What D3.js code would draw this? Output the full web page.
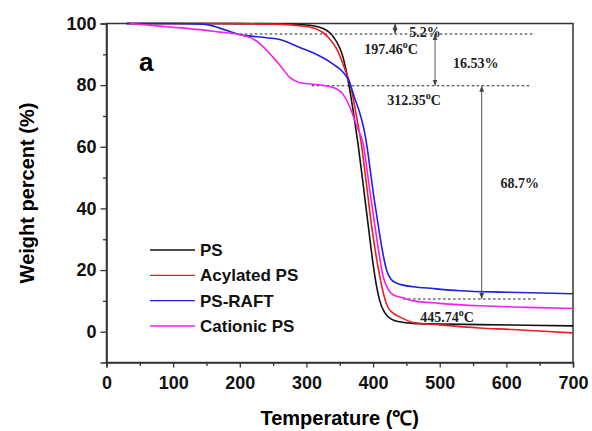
<!DOCTYPE html>
<html>
<head>
<meta charset="utf-8">
<script src="https://cdn.jsdelivr.net/npm/d3@7/dist/d3.min.js"></script>
<style>
  body { margin: 0; background: #fff; }
  svg { display: block; }
</style>
</head>
<body>
<script>
// TGA curves: [temperature °C, weight %]
const psData = [[30,100],[150,100],[250,99.9],[300,99.5],[325,98.4],[340,95.8],[355,89],[363,81],
  [372,69],[378,60],[385,48],[393,34],[400,22],[405,15],[410,10],[418,6],[428,4],[440,3.2],
  [460,2.7],[500,2.5],[560,2.3],[630,2.1],[700,1.9]];
const acylatedData = [[30,100],[150,100],[250,99.8],[300,99],[325,97],[335,95],[346,91.5],[358,85],
  [366,80],[375,70],[383,60],[390,48],[398,34],[405,24],[410,18],[416,12],[422,8],[430,6],
  [440,4.8],[460,3],[500,2.2],[560,1.2],[610,0.7],[650,0.2],[700,-0.4]];
const raftData = [[30,100],[100,100],[145,99.8],[170,98.5],[200,96.4],[230,95.6],[260,94.8],
  [290,92.2],[310,90.5],[340,86.8],[355,84.2],[365,80.8],[372,76],[380,71],[386,66],[391,60],
  [396,52],[401,44],[406,37],[411,30],[416,24],[421,19.5],[427,17],[435,15.8],[445,15.1],
  [460,14.6],[490,14],[530,13.3],[600,12.8],[700,12.3]];
const cationicData = [[35,100],[60,99.5],[100,98.8],[140,98],[170,97.2],[200,96.4],[215,95.5],
  [230,93.5],[250,89],[262,86],[275,82.5],[290,80.8],[310,80.3],[340,79.2],[355,77],[365,73],
  [375,67],[385,61],[395,46],[403,34],[410,24],[415,18],[422,14],[430,12],[445,11],[460,10],
  [500,9.2],[560,8.4],[630,7.9],[700,7.5]];

const seriesNames = ['PS', 'Acylated PS', 'PS-RAFT', 'Cationic PS'];
const seriesData = [psData, acylatedData, raftData, cationicData];
const seriesColors = ['#111111', '#ee1c24', '#2020e0', '#f020f0'];

const xTicks = [0, 100, 200, 300, 400, 500, 600, 700];
const yTicks = [0, 20, 40, 60, 80, 100];

// annotations (data units)
const dashedLines = [[200, 643, 96.6], [308, 638, 79.8], [445, 646, 10.6]]; // [t1, t2, w]
const arrows = [[433, 100, 96.6], [493, 96.6, 79.8], [563, 79.8, 10.6]];   // [t, w1, w2]
const notes = [
  [478, 97.4, '5.2%', false],
  [427, 91.7, '197.46', true],
  [554, 87.2, '16.53%', false],
  [461.5, 75.2, '312.35', true],
  [620, 48.3, '68.7%', false],
  [511, 4.8, '445.74', true]
];

const width = 592, height = 431;
const margin = {left: 106.5, right: 19, top: 23.5, bottom: 68.5};

const svg = d3.select('body').append('svg')
  .attr('width', width)
  .attr('height', height);

const x = d3.scaleLinear().domain([0, 700]).range([margin.left, width - margin.right]);
const y = d3.scaleLinear().domain([-10, 100]).range([height - margin.bottom, margin.top]);

const axisColor = '#333';

// frame (top and right)
svg.append('rect')
  .attr('x', x(0)).attr('y', y(100))
  .attr('width', x(700) - x(0)).attr('height', y(-10) - y(100))
  .attr('fill', 'none').attr('stroke', axisColor).attr('stroke-width', 1.5);

// axes
const xAxis = svg.append('g')
  .attr('transform', `translate(0,${y(-10)})`)
  .call(d3.axisBottom(x).tickValues(d3.range(0, 701, 50)).tickSize(5).tickFormat(d => xTicks.includes(d) ? d : ''));
const yAxis = svg.append('g')
  .attr('transform', `translate(${x(0)},0)`)
  .call(d3.axisLeft(y).tickValues(d3.range(-10, 101, 10)).tickSize(6).tickFormat(d => yTicks.includes(d) ? d : ''));

[xAxis, yAxis].forEach(g => {
  g.select('.domain').attr('stroke', axisColor).attr('stroke-width', 1.5);
  g.selectAll('.tick line').attr('stroke', axisColor).attr('stroke-width', 1.3);
  g.selectAll('text')
    .attr('fill', '#111')
    .style('font-family', '"Liberation Sans", Arial, sans-serif')
    .style('font-weight', 'bold')
    .style('font-size', '18px');
});
xAxis.selectAll('.tick').filter(d => !xTicks.includes(d)).select('line').attr('y2', 3.5);
yAxis.selectAll('.tick').filter(d => !yTicks.includes(d)).select('line').attr('x2', -3.5);
yAxis.selectAll('.tick').filter(d => d === -10).select('line').remove();
xAxis.selectAll('text').attr('dy', '1.05em');
yAxis.selectAll('text').attr('x', -10);

// axis titles
svg.append('text')
  .attr('x', (x(0) + x(700)) / 2).attr('y', 425)
  .attr('text-anchor', 'middle')
  .style('font-family', '"Liberation Sans", Arial, sans-serif')
  .style('font-weight', 'bold').style('font-size', '20px')
  .text('Temperature (℃)');

svg.append('text')
  .attr('transform', `translate(34,${(y(100) + y(-10)) / 2}) rotate(-90)`)
  .attr('text-anchor', 'middle')
  .style('font-family', '"Liberation Sans", Arial, sans-serif')
  .style('font-weight', 'bold').style('font-size', '20px')
  .text('Weight percent (%)');

svg.append('text')
  .attr('x', 139).attr('y', 71)
  .style('font-family', '"Liberation Sans", Arial, sans-serif')
  .style('font-weight', 'bold').style('font-size', '26px')
  .text('a');

// dashed reference lines
svg.selectAll('.ref')
  .data(dashedLines)
  .join('line')
  .attr('class', 'ref')
  .attr('x1', d => x(d[0])).attr('x2', d => x(d[1]))
  .attr('y1', d => y(d[2])).attr('y2', d => y(d[2]))
  .attr('stroke', '#222').attr('stroke-width', 1.2)
  .attr('stroke-dasharray', '2.5,2.5');

// arrow heads
const defs = svg.append('defs');
defs.append('marker')
  .attr('id', 'head')
  .attr('viewBox', '0 0 10 10')
  .attr('refX', 10).attr('refY', 5)
  .attr('markerWidth', 6).attr('markerHeight', 6)
  .attr('orient', 'auto-start-reverse')
  .append('path').attr('d', 'M0,1L10,5L0,9Z').attr('fill', '#444');

svg.selectAll('.arrow')
  .data(arrows)
  .join('line')
  .attr('class', 'arrow')
  .attr('x1', d => x(d[0])).attr('x2', d => x(d[0]))
  .attr('y1', d => y(d[1])).attr('y2', d => y(d[2]))
  .attr('stroke', '#555').attr('stroke-width', 1)
  .attr('marker-start', 'url(#head)')
  .attr('marker-end', 'url(#head)');

// annotation labels
const noteText = svg.selectAll('.note')
  .data(notes)
  .join('text')
  .attr('class', 'note')
  .attr('x', d => x(d[0])).attr('y', d => y(d[1]) + 5)
  .attr('text-anchor', 'middle')
  .attr('fill', '#222')
  .style('font-family', '"Liberation Serif", "Times New Roman", serif')
  .style('font-weight', 'bold').style('font-size', '14px');
noteText.append('tspan').text(d => d[2]);
noteText.filter(d => d[3]).append('tspan')
  .attr('dy', -6).style('font-size', '10px').text('o');
noteText.filter(d => d[3]).append('tspan')
  .attr('dy', 6).text('C');

// curves
const line = d3.line()
  .x(d => x(d[0]))
  .y(d => y(d[1]))
  .curve(d3.curveMonotoneX);

svg.selectAll('.curve')
  .data(seriesData)
  .join('path')
  .attr('class', 'curve')
  .attr('d', line)
  .attr('fill', 'none')
  .attr('stroke', (d, i) => seriesColors[i])
  .attr('stroke-width', 1.6);

// legend
const legend = svg.append('g');
const legendY = d3.scaleLinear().domain([0, 3]).range([250, 326]);
seriesNames.forEach((name, i) => {
  legend.append('line')
    .attr('x1', 150).attr('x2', 195)
    .attr('y1', legendY(i)).attr('y2', legendY(i))
    .attr('stroke', seriesColors[i]).attr('stroke-width', 1.4);
  legend.append('text')
    .attr('x', 200).attr('y', legendY(i) + 6)
    .attr('fill', '#111')
    .style('font-family', '"Liberation Sans", Arial, sans-serif')
    .style('font-weight', 'bold').style('font-size', '17px')
    .text(name);
});
</script>
</body>
</html>
